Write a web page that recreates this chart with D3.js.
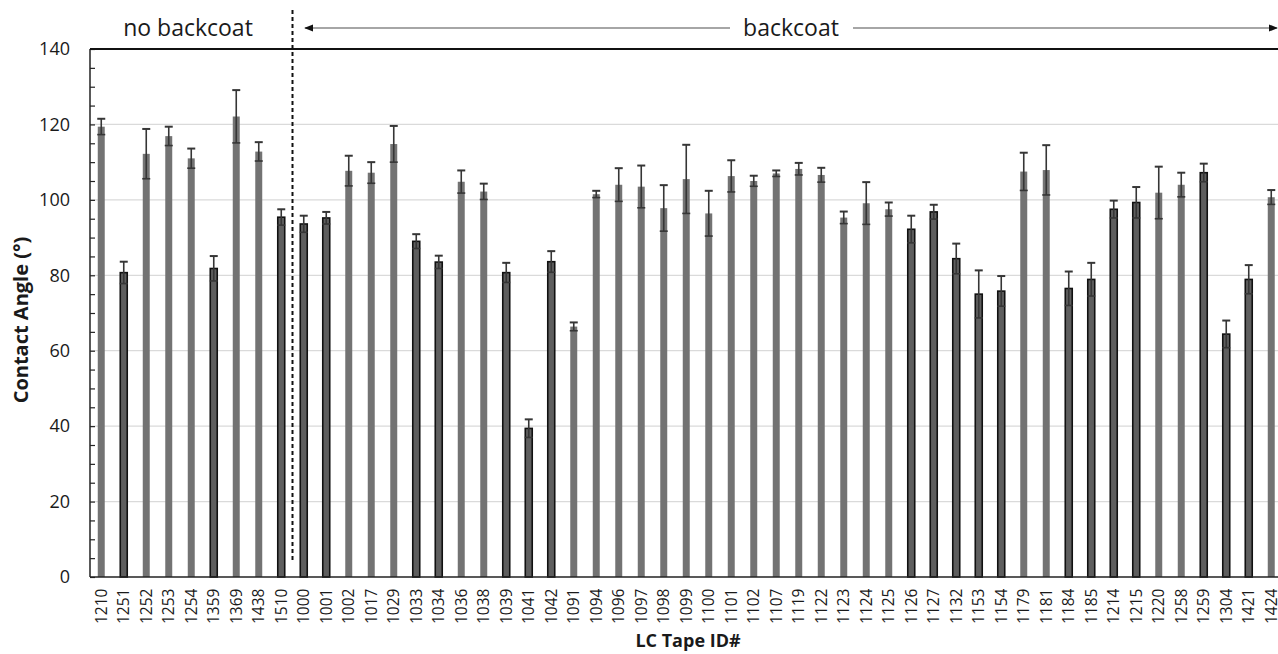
<!DOCTYPE html>
<html>
<head>
<meta charset="utf-8">
<script src="https://cdn.jsdelivr.net/npm/d3@7"></script>
<style>
  body { margin: 0; background: #fff; }
  text { font-family: "Open Sans", "Noto Sans", sans-serif; fill: #1a1a1a; }
</style>
</head>
<body>
<svg width="1278" height="654"></svg>
<script>
// LC tape IDs in plotted order
var ids = ["1210","1251","1252","1253","1254","1359","1369","1438","1510",
  "1000","1001","1002","1017","1029","1033","1034","1036","1038","1039","1041","1042",
  "1091","1094","1096","1097","1098","1099","1100","1101","1102","1107","1119","1122",
  "1123","1124","1125","1126","1127","1132","1153","1154","1179","1181","1184","1185",
  "1214","1215","1220","1258","1259","1304","1421","1424"];

// mean contact angle (deg)
var angles = [119.4, 80.7, 112.2, 116.9, 111.0, 81.8, 122.1, 112.8, 95.4,
  93.6, 95.2, 107.7, 107.2, 114.8, 89.0, 83.5, 104.8, 102.2, 80.7, 39.4, 83.6,
  66.4, 101.5, 104.0, 103.5, 97.8, 105.5, 96.4, 106.3, 105.0, 107.0, 108.2, 106.6,
  95.3, 99.1, 97.5, 92.2, 96.8, 84.4, 75.0, 75.8, 107.5, 107.9, 76.5, 78.9,
  97.5, 99.3, 101.9, 104.0, 107.2, 64.4, 78.9, 100.7];

// standard deviation (deg)
var errors = [2.1, 2.9, 6.6, 2.5, 2.6, 3.3, 7.0, 2.5, 2.1,
  2.2, 1.6, 4.0, 2.8, 4.8, 1.9, 1.7, 3.0, 2.1, 2.6, 2.4, 2.8,
  1.1, 0.9, 4.4, 5.6, 6.1, 9.1, 6.0, 4.2, 1.4, 0.8, 1.6, 1.9,
  1.6, 5.6, 1.8, 3.6, 1.9, 4.0, 6.3, 4.0, 5.0, 6.6, 4.5, 4.4,
  2.3, 4.1, 6.9, 3.2, 2.4, 3.6, 3.8, 1.9];

// tapes drawn with a black outline
var outlined = ["1251","1359","1510","1000","1001","1033","1034","1039","1041","1042",
  "1126","1127","1132","1153","1154","1184","1185","1214","1215","1259","1304","1421"];

var yTicks = [0, 20, 40, 60, 80, 100, 120, 140];

var data = ids.map(function (id, i) {
  return { id: id, angle: angles[i], err: errors[i], dark: outlined.indexOf(id) >= 0 };
});

var svg = d3.select("svg");
var padL = 90, padT = 49, padB = 577;
var step = 22.5;
var padR = padL + step * ids.length;

var x = d3.scaleBand()
  .domain(ids)
  .range([padL, padR])
  .paddingInner(0.69)
  .paddingOuter(0.345);

var y = d3.scaleLinear()
  .domain([0, 140])
  .range([padB, padT]);

// gridlines
svg.append("g")
  .selectAll("line")
  .data(yTicks.filter(function (d) { return d > 0 && d < 140; }))
  .enter().append("line")
  .attr("x1", padL).attr("x2", 1278)
  .attr("y1", function (d) { return y(d); })
  .attr("y2", function (d) { return y(d); })
  .attr("stroke", "#dadada")
  .attr("stroke-width", 1.2);

// bars
svg.append("g")
  .selectAll("rect")
  .data(data)
  .enter().append("rect")
  .attr("x", function (d) { return x(d.id); })
  .attr("y", function (d) { return y(d.angle); })
  .attr("width", x.bandwidth())
  .attr("height", function (d) { return padB - y(d.angle); })
  .attr("fill", function (d) { return d.dark ? "#5e5e5e" : "#737373"; })
  .attr("stroke", function (d) { return d.dark ? "#111" : "none"; })
  .attr("stroke-width", 1.6);

// error bars
var eb = svg.append("g")
  .attr("stroke", "#363636")
  .attr("stroke-width", 1.6)
  .selectAll("g")
  .data(data)
  .enter().append("g")
  .attr("transform", function (d) { return "translate(" + (x(d.id) + x.bandwidth() / 2) + ",0)"; });

eb.append("line")
  .attr("y1", function (d) { return y(d.angle - d.err); })
  .attr("y2", function (d) { return y(d.angle + d.err); });
eb.append("line")
  .attr("x1", -4).attr("x2", 4)
  .attr("stroke-width", 2)
  .attr("y1", function (d) { return y(d.angle + d.err); })
  .attr("y2", function (d) { return y(d.angle + d.err); });
eb.append("line")
  .attr("x1", -4).attr("x2", 4)
  .attr("y1", function (d) { return y(d.angle - d.err); })
  .attr("y2", function (d) { return y(d.angle - d.err); });

// y axis: labels
var yAxis = svg.append("g")
  .attr("transform", "translate(" + padL + ",0)")
  .call(d3.axisLeft(y).tickValues(yTicks).tickSize(0).tickPadding(20));
yAxis.select(".domain").remove();
yAxis.selectAll("text")
  .style("font-size", "18px")
  .style("font-family", "'Open Sans', sans-serif")
  .attr("fill", "#1a1a1a");

// minor ticks inside the plot
var minor = d3.range(0, 141, 5);
svg.append("g")
  .attr("transform", "translate(" + padL + ",0)")
  .call(d3.axisRight(y).tickValues(minor).tickSize(5).tickFormat(""))
  .call(function (g) { g.select(".domain").remove(); })
  .selectAll("line").attr("stroke", "#222").attr("stroke-width", 1.2);

// frame: left, bottom, top
svg.append("line").attr("x1", padL).attr("x2", padL).attr("y1", padT).attr("y2", padB)
  .attr("stroke", "#222").attr("stroke-width", 1.5);
svg.append("line").attr("x1", padL).attr("x2", 1278).attr("y1", padB).attr("y2", padB)
  .attr("stroke", "#222").attr("stroke-width", 1.5);
svg.append("line").attr("x1", padL).attr("x2", 1278).attr("y1", padT).attr("y2", padT)
  .attr("stroke", "#111").attr("stroke-width", 1.8);

// x axis labels
var xAxis = svg.append("g")
  .attr("transform", "translate(0," + padB + ")")
  .call(d3.axisBottom(x).tickSize(0).tickPadding(0));
xAxis.select(".domain").remove();
xAxis.selectAll("text")
  .attr("transform", "rotate(-90)")
  .attr("x", -47)
  .attr("y", 0)
  .attr("dy", "0.35em")
  .style("text-anchor", "start")
  .style("font-size", "15.5px")
  .style("font-family", "'Open Sans', sans-serif")
  .attr("fill", "#1a1a1a");

// divider between groups
var divX = (x("1510") + x("1000") + x.bandwidth()) / 2;
svg.append("line")
  .attr("x1", divX).attr("x2", divX)
  .attr("y1", 10).attr("y2", 562)
  .attr("stroke", "#111")
  .attr("stroke-width", 2)
  .attr("stroke-dasharray", "4,3");

// group annotations
svg.append("text")
  .attr("x", 188).attr("y", 36)
  .attr("text-anchor", "middle")
  .style("font-size", "23px")
  .text("no backcoat");

svg.append("text")
  .attr("x", 791).attr("y", 36)
  .attr("text-anchor", "middle")
  .style("font-size", "23px")
  .text("backcoat");

var defs = svg.append("defs");
defs.append("marker")
  .attr("id", "arr")
  .attr("viewBox", "0 0 10 10")
  .attr("refX", 9).attr("refY", 5)
  .attr("markerWidth", 6).attr("markerHeight", 6)
  .attr("markerUnits", "strokeWidth")
  .attr("orient", "auto")
  .append("path").attr("d", "M0,1L10,5L0,9Z").attr("fill", "#111");

svg.append("line")
  .attr("x1", 730).attr("x2", 305).attr("y1", 28).attr("y2", 28)
  .attr("stroke", "#888").attr("stroke-width", 1.5)
  .attr("marker-end", "url(#arr)");
svg.append("line")
  .attr("x1", 853).attr("x2", 1277).attr("y1", 28).attr("y2", 28)
  .attr("stroke", "#888").attr("stroke-width", 1.5)
  .attr("marker-end", "url(#arr)");

// axis titles
svg.append("text")
  .attr("transform", "translate(28,320) rotate(-90)")
  .attr("text-anchor", "middle")
  .style("font-size", "20px")
  .style("font-weight", "bold")
  .text("Contact Angle (°)");

svg.append("text")
  .attr("x", 688).attr("y", 647)
  .attr("text-anchor", "middle")
  .style("font-size", "18px")
  .style("font-weight", "bold")
  .text("LC Tape ID#");
</script>
</body>
</html>
